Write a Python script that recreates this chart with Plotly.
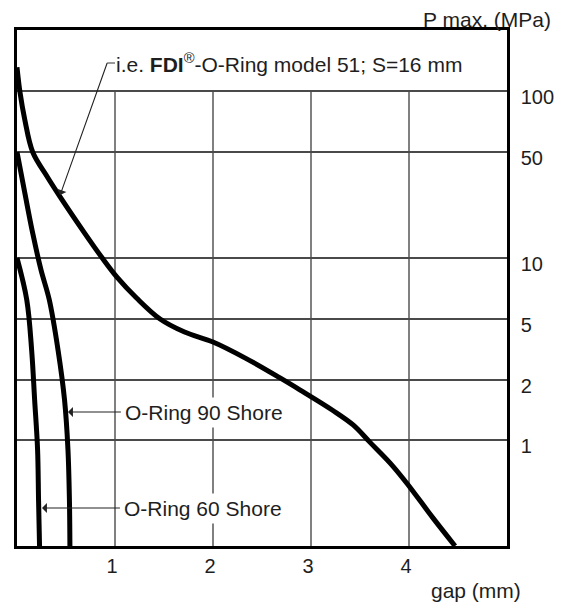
import numpy as np
import plotly.graph_objects as go

# ---------------- data ----------------
# gap in mm, P max in MPa
FDI_GAP = [0, 0.03, 0.08, 0.16, 0.31, 0.44, 0.69, 0.87, 1.02, 1.22, 1.46, 1.71, 2.00, 2.33,
           2.68, 2.89, 3.22, 3.43, 3.60, 3.81, 3.98, 4.24, 4.47]
FDI_P = [131, 98.9, 71.9, 50, 34.2, 25.3, 14.6, 10, 8.05, 6.35, 5.0, 4.11, 3.54, 2.78,
         2.07, 1.78, 1.41, 1.19, 0.98, 0.78, 0.59, 0.27, 0]

SHORE90_GAP = [0, 0.08, 0.16, 0.245, 0.33, 0.42, 0.485, 0.52, 0.535, 0.54]
SHORE90_P = [50, 26.8, 14.6, 8.73, 6.2, 3.1, 1.59, 0.91, 0.43, 0]

SHORE60_GAP = [0, 0.10, 0.15, 0.18, 0.21, 0.22, 0.23]
SHORE60_P = [10, 6.2, 3.1, 1.59, 0.91, 0.43, 0]

X_TICKS = [1, 2, 3, 4]
Y_TICKS = [1, 2, 5, 10, 50, 100]
Y_TICK_TEXT = ["1", "2", "5", "10", "50", "100"]

# ---------------- the chart's own (non-uniform) pressure scale ----------------
SCALE_P = [1, 2, 5, 10, 50, 100, 200]
SCALE_POS = [106, 166, 227, 288, 394, 455, 516]


def to_pos(p):
    p = np.asarray(p, dtype=float)
    out = np.where(
        p >= 1,
        np.interp(np.log10(np.maximum(p, 1e-9)), np.log10(SCALE_P), SCALE_POS),
        SCALE_POS[0] * p,
    )
    return out


TXT = "#1e1e1e"
FONT = "Liberation Sans, Arial, sans-serif"
GRID = "#4a4a4a"

fig = go.Figure()
for gx, gp in [(FDI_GAP, FDI_P), (SHORE90_GAP, SHORE90_P), (SHORE60_GAP, SHORE60_P)]:
    fig.add_trace(go.Scatter(
        x=gx, y=to_pos(gp), mode="lines",
        line=dict(color="black", width=5, shape="spline", smoothing=1.0),
        showlegend=False, hoverinfo="skip",
    ))

top_grid = float(to_pos([max(Y_TICKS)])[0])
shapes = []
for xv in X_TICKS:
    shapes.append(dict(type="line", xref="x", yref="y", x0=xv, x1=xv, y0=0, y1=top_grid,
                       line=dict(color=GRID, width=1.4), layer="below"))
# short horizontal stub of the FDI leader line
shapes.append(dict(type="line", xref="x", yref="y", x0=0.92, x1=1.0, y0=483, y1=483,
                   line=dict(color="#333", width=1)))

ARROW = dict(showarrow=True, arrowhead=1, arrowsize=1.5, arrowwidth=1.1, arrowcolor="#222")

ann = []
# FDI label with its leader arrow (tail at the stub's left end, text padded to the right)
ann.append(dict(x=0.44, y=351, xref="x", yref="y", ax=0.92, ay=483, axref="x", ayref="y",
                text="i.e. <b>FDI</b><sup>®</sup>-O-Ring model 51; S=16 mm",
                xanchor="left", yanchor="middle", borderpad=8,
                font=dict(size=21, color=TXT, family=FONT), **ARROW))
ann.append(dict(x=0.52, y=134, xref="x", yref="y", ax=1.06, ay=134, axref="x", ayref="y",
                text="O-Ring 90 Shore", xanchor="left", yanchor="middle",
                bgcolor="white", borderpad=3,
                font=dict(size=21, color=TXT, family=FONT), **ARROW))
ann.append(dict(x=0.255, y=38, xref="x", yref="y", ax=1.05, ay=38, axref="x", ayref="y",
                text="O-Ring 60 Shore", xanchor="left", yanchor="middle",
                bgcolor="white", borderpad=3,
                font=dict(size=21, color=TXT, family=FONT), **ARROW))
ann.append(dict(x=1.0918, y=1.0194, xref="paper", yref="paper", xanchor="right", yanchor="middle",
                text="P max. (MPa)", showarrow=False, borderpad=0,
                font=dict(size=21, color=TXT, family=FONT)))
ann.append(dict(x=1.0327, y=-0.0872, xref="paper", yref="paper", xanchor="right", yanchor="middle",
                text="gap (mm)", showarrow=False, font=dict(size=21, color=TXT, family=FONT)))

# the page body adds an 8 px margin, so the figure is 8 px smaller and shifted accordingly
fig.update_layout(
    width=557, height=596,
    margin=dict(l=9, r=58, t=22, b=58, autoexpand=False),
    paper_bgcolor="white", plot_bgcolor="white",
    shapes=shapes, annotations=ann,
    xaxis=dict(range=[0, 5], tickvals=X_TICKS, ticktext=[str(v) for v in X_TICKS],
               showgrid=False, zeroline=False, ticks="", automargin=False,
               showline=True, mirror=True, linecolor="black", linewidth=2.5,
               tickfont=dict(size=20, color=TXT, family=FONT),
               ticklabelshift=-3, ticklabelstandoff=0),
    yaxis=dict(range=[0, 516], side="right", tickvals=list(to_pos(Y_TICKS)), ticktext=Y_TICK_TEXT,
               showgrid=True, gridcolor=GRID, gridwidth=1.6, zeroline=False, ticks="",
               automargin=False,
               showline=True, mirror=True, linecolor="black", linewidth=2.5,
               tickfont=dict(size=20, color=TXT, family=FONT),
               ticklabelshift=6, ticklabelstandoff=7),
)

fig.write_html("out.html")
